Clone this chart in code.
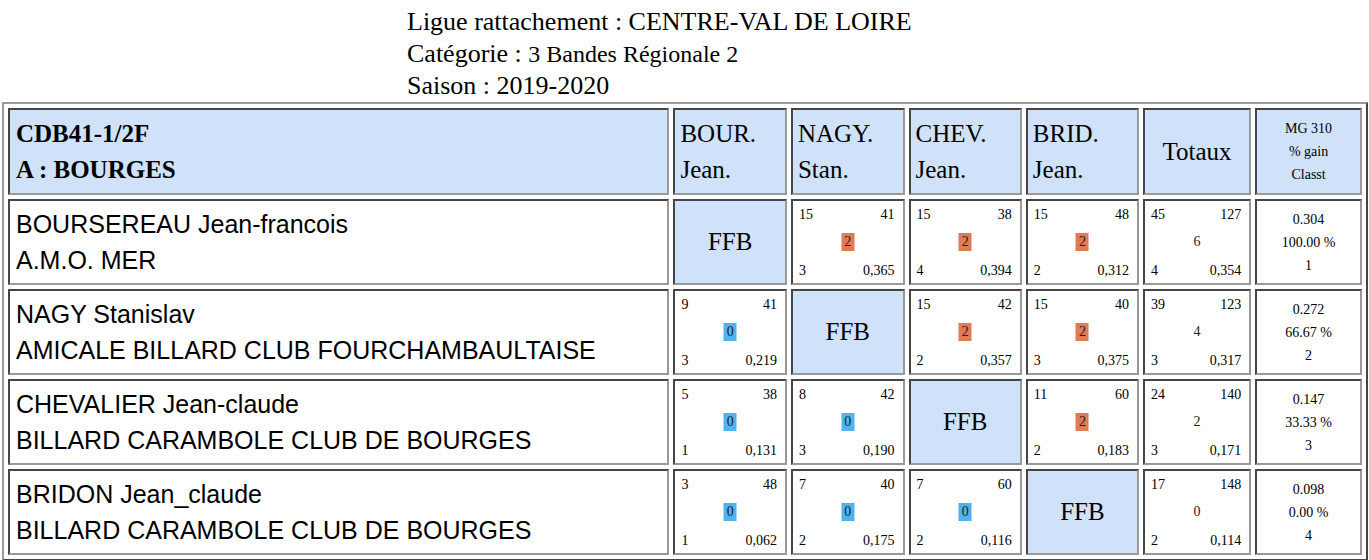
<!DOCTYPE html>
<html lang="fr">
<head>
<meta charset="UTF-8">
<title>CDB41-1/2F</title>
<script src="https://cdn.jsdelivr.net/npm/chart.js"></script>
<style>
  body { margin: 0; font-family: "Liberation Serif", "Times New Roman", serif; background: #fff; }
  .head { position: absolute; left: 407px; top: 6px; font-size: 26px; line-height: 32px; font-family: "Liberation Serif", serif; }
  table { position: absolute; left: 2px; top: 102px; width: 1366px; height: 456px;
          border: 2px outset #999; border-spacing: 4px; }
  td { border: 2px inset #999; padding: 0; vertical-align: middle; }
  .hd { background: #cfe2fa; }
  .name { font-size: 25px; line-height: 36px; padding-left: 6px; font-family: "Liberation Sans", Arial, sans-serif; }
  .hdname { font-size: 25px; line-height: 36px; padding-left: 6px; }
  .pl { font-size: 25px; line-height: 36px; padding-left: 5px; }
  .tot { font-size: 25px; text-align: center; }
  .mg { font-size: 14px; text-align: center; line-height: 23px; }
  .ffb { font-size: 25px; text-align: center; }
  .m { position: relative; font-size: 14px; }
  .m span { position: absolute; }
  .b { left: 50%; top: 50%; transform: translate(-50%,-50%); padding: 1px 3px; color: #222; }
</style>
</head>
<body>
<div class="head">
  Ligue rattachement : CENTRE-VAL DE LOIRE<br>
  Catégorie : <span style="font-size:24px">3 Bandes Régionale 2</span><br>
  Saison : 2019-2020
</div>
<table id="t"></table>
<script>
const poule = "CDB41-1/2F";
const lieu = "A : BOURGES";
const players = ["BOURSEREAU Jean-francois", "NAGY Stanislav", "CHEVALIER Jean-claude", "BRIDON Jean_claude"];
const clubs = ["A.M.O. MER", "AMICALE BILLARD CLUB FOURCHAMBAULTAISE", "BILLARD CARAMBOLE CLUB DE BOURGES", "BILLARD CARAMBOLE CLUB DE BOURGES"];
const shortNames = [["BOUR.", "Jean."], ["NAGY.", "Stan."], ["CHEV.", "Jean."], ["BRID.", "Jean."]];
// [points, reprises, match points, série, moyenne] ; null = diagonal
const matches = [
  [null, [15,41,2,3,"0,365"], [15,38,2,4,"0,394"], [15,48,2,2,"0,312"]],
  [[9,41,0,3,"0,219"], null, [15,42,2,2,"0,357"], [15,40,2,3,"0,375"]],
  [[5,38,0,1,"0,131"], [8,42,0,3,"0,190"], null, [11,60,2,2,"0,183"]],
  [[3,48,0,1,"0,062"], [7,40,0,2,"0,175"], [7,60,0,2,"0,116"], null]
];
const totals = [[45,127,6,4,"0,354"], [39,123,4,3,"0,317"], [24,140,2,3,"0,171"], [17,148,0,2,"0,114"]];
const mg = ["0.304", "0.272", "0.147", "0.098"];
const gain = ["100.00 %", "66.67 %", "33.33 %", "0.00 %"];
const classt = ["1", "2", "3", "4"];

function cell(m, badge) {
  let b = badge ? `<span class="b" style="background:${m[2] > 0 ? '#e07b53' : '#4fb3f0'}">${m[2]}</span>`
                : `<span class="b">${m[2]}</span>`;
  return `<td class="m"><span style="left:6px;top:6px">${m[0]}</span><span style="right:8px;top:6px">${m[1]}</span>${b}` +
         `<span style="left:6px;bottom:4px">${m[3]}</span><span style="right:8px;bottom:4px">${m[4]}</span></td>`;
}

let html = `<tr style="height:87px"><td class="hd hdname" style="width:670px"><b>${poule}<br>${lieu}</b></td>`;
shortNames.forEach(s => html += `<td class="hd pl" style="width:106px">${s[0]}<br>${s[1]}</td>`);
html += `<td class="hd tot" style="width:106px">Totaux</td><td class="hd mg" style="width:106px">MG 310<br>% gain<br>Classt</td></tr>`;
players.forEach((p, i) => {
  html += `<tr style="height:86px"><td class="name">${p}<br>${clubs[i]}</td>`;
  matches[i].forEach(m => html += m ? cell(m, true) : `<td class="hd ffb">FFB</td>`);
  html += cell(totals[i], false);
  html += `<td class="mg">${mg[i]}<br>${gain[i]}<br>${classt[i]}</td></tr>`;
});
document.getElementById('t').innerHTML = html;
</script>
</body>
</html>
